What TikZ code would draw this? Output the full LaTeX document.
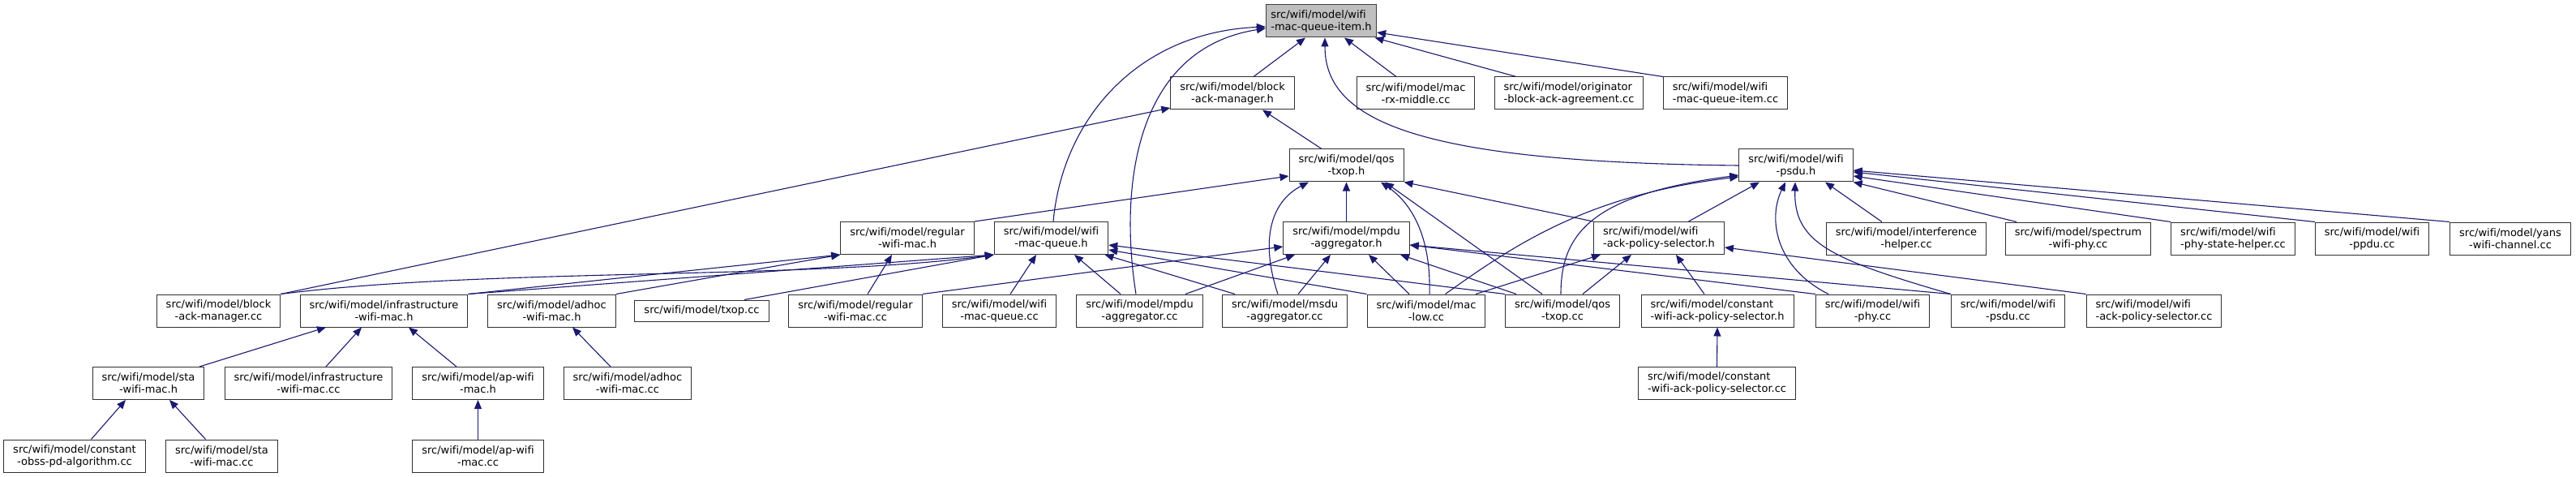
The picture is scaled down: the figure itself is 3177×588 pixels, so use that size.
\documentclass[tikz,border=0pt]{standalone}
\usepackage{fontspec}
\setmainfont{DejaVu Sans}[Ligatures=NoCommon]
\usetikzlibrary{arrows.meta,calc}
\definecolor{edgec}{HTML}{191970}
\definecolor{rootfill}{HTML}{BFBFBF}
\definecolor{rootline}{HTML}{404040}
\definecolor{boxline}{HTML}{303030}
\begin{document}
\begin{tikzpicture}[x=1pt,y=-1pt,
  box/.style={draw=boxline, line width=1pt, fill=white, font=\fontsize{13}{15}\selectfont,
    inner xsep=11.5pt, inner ysep=2pt, minimum height=40pt, align=center},
  lbox/.style={box, align=left},
  edge/.style={draw=edgec, line width=1.1pt, -{Triangle[length=11pt,width=9pt]}}]
\useasboundingbox[fill=white] (0,0) rectangle (3177,588);
% row 1
\node[lbox, fill=rootfill, draw=rootline, inner xsep=6pt] (R) at (1629.5,26) {src/wifi/model/wifi\\-mac-queue-item.h};
% row 2
\node[box] (BAMh) at (1520,115) {src/wifi/model/block\\-ack-manager.h};
\node[box] (MRM) at (1746,115) {src/wifi/model/mac\\-rx-middle.cc};
\node[lbox] (ORIG) at (1935,115) {src/wifi/model/originator\\-block-ack-agreement.cc};
\node[lbox] (WMQIcc) at (2128,115) {src/wifi/model/wifi\\-mac-queue-item.cc};
% row 3
\node[box] (QTh) at (1660.5,204) {src/wifi/model/qos\\-txop.h};
\node[box] (PSDUh) at (2215,204) {src/wifi/model/wifi\\-psdu.h};
% row 4
\node[box] (RWMh) at (1119,293.5) {src/wifi/model/regular\\-wifi-mac.h};
\node[box] (WMQh) at (1296.5,293.5) {src/wifi/model/wifi\\-mac-queue.h};
\node[box] (MAh) at (1660.5,293.5) {src/wifi/model/mpdu\\-aggregator.h};
\node[lbox] (WAPSh) at (2046,293.5) {src/wifi/model/wifi\\-ack-policy-selector.h};
\node[box] (IH) at (2351,294) {src/wifi/model/interference\\-helper.cc};
\node[box] (SP) at (2563,294) {src/wifi/model/spectrum\\-wifi-phy.cc};
\node[lbox] (PSH) at (2754,294) {src/wifi/model/wifi\\-phy-state-helper.cc};
\node[box] (PPDU) at (2925.5,294) {src/wifi/model/wifi\\-ppdu.cc};
\node[box] (YANS) at (3096,294) {src/wifi/model/yans\\-wifi-channel.cc};
% row 5
\node[box] (BAMcc) at (269.5,383) {src/wifi/model/block\\-ack-manager.cc};
\node[box] (IWh) at (473.5,383) {src/wifi/model/infrastructure\\-wifi-mac.h};
\node[box] (AHh) at (680.5,383) {src/wifi/model/adhoc\\-wifi-mac.h};
\node[box, minimum height=26pt] (TXcc) at (865.5,383) {src/wifi/model/txop.cc};
\node[box] (RWMcc) at (1055,383) {src/wifi/model/regular\\-wifi-mac.cc};
\node[box] (WMQcc) at (1232.5,383) {src/wifi/model/wifi\\-mac-queue.cc};
\node[box] (MPDUcc) at (1405.5,383) {src/wifi/model/mpdu\\-aggregator.cc};
\node[box] (MScc) at (1584.5,383) {src/wifi/model/msdu\\-aggregator.cc};
\node[box] (MLcc) at (1759,383) {src/wifi/model/mac\\-low.cc};
\node[box] (QTcc) at (1927,383) {src/wifi/model/qos\\-txop.cc};
\node[lbox] (CWh) at (2118,383) {src/wifi/model/constant\\-wifi-ack-policy-selector.h};
\node[box] (WPcc) at (2309.5,383) {src/wifi/model/wifi\\-phy.cc};
\node[box] (PScc) at (2476.5,383) {src/wifi/model/wifi\\-psdu.cc};
\node[lbox] (WAPScc) at (2656.5,383) {src/wifi/model/wifi\\-ack-policy-selector.cc};
% row 6
\node[box] (SWh) at (183,472.5) {src/wifi/model/sta\\-wifi-mac.h};
\node[box] (IWcc) at (380.5,472.5) {src/wifi/model/infrastructure\\-wifi-mac.cc};
\node[box] (AWh) at (589.5,472.5) {src/wifi/model/ap-wifi\\-mac.h};
\node[box] (AHcc) at (774,472.5) {src/wifi/model/adhoc\\-wifi-mac.cc};
\node[lbox] (CWcc) at (2117.5,472.5) {src/wifi/model/constant\\-wifi-ack-policy-selector.cc};
% row 7
\node[box] (CO) at (92,562) {src/wifi/model/constant\\-obss-pd-algorithm.cc};
\node[box] (SWcc) at (273.5,562) {src/wifi/model/sta\\-wifi-mac.cc};
\node[box] (AWcc) at (589.5,562) {src/wifi/model/ap-wifi\\-mac.cc};

% edges to root
\draw[edge] ([xshift=26pt]BAMh.north) -- ([xshift=-19.5pt]R.south);
\draw[edge] ([xshift=-24pt]MRM.north) -- ([xshift=28.5pt]R.south);
\draw[edge] ([xshift=-65pt]ORIG.north) -- ([xshift=66pt]R.south);
\draw[edge] (WMQIcc.north west) -- ([yshift=-14pt]R.east);
\draw[edge] (PSDUh.west) .. controls (1750,200) and (1634,150) .. ([xshift=4.5pt]R.south);
\draw[edge] ([xshift=2.5pt]WMQh.north) .. controls (1310,150) and (1400,40) .. ([yshift=-7pt]R.west);
\draw[edge] ([xshift=-4.5pt]MPDUcc.north) .. controls (1380,230) and (1400,60) .. ([yshift=-9pt]R.west);
% block-ack-manager.h
\draw[edge] ([xshift=-30.5pt]QTh.north) -- ([xshift=37pt]BAMh.south);
\draw[edge] (BAMcc.north east) -- ([yshift=-18pt]BAMh.west);
% qos-txop.h
\draw[edge] (RWMh.north east) -- ([yshift=-13pt]QTh.west);
\draw[edge] (MAh.north) -- (QTh.south);
\draw[edge] ([xshift=-8.5pt]MScc.north) .. controls (1555,300) and (1565,250) .. ([xshift=-46.5pt]QTh.south);
\draw[edge] ([xshift=4pt]MLcc.north) .. controls (1765,290) and (1740,250) .. ([xshift=42.5pt]QTh.south);
\draw[edge] ([xshift=-25pt]QTcc.north) -- ([xshift=47.5pt]QTh.south);
\draw[edge] (WAPSh.north west) -- (QTh.south east);
% wifi-psdu.h
\draw[edge] ([xshift=36.5pt]WAPSh.north) -- ([xshift=-45pt]PSDUh.south);
\draw[edge] ([xshift=23.5pt]MLcc.north) .. controls (1870,300) and (1960,240) .. ([yshift=-14pt]PSDUh.west);
\draw[edge] ([xshift=-2pt]QTcc.north) .. controls (1925,290) and (1960,240) .. ([yshift=-12pt]PSDUh.west);
\draw[edge] ([xshift=-30pt]IH.north) -- ([xshift=36pt]PSDUh.south);
\draw[edge] ([xshift=-76pt]SP.north) -- (PSDUh.south east);
\draw[edge] (PSH.north west) -- ([yshift=-13pt]PSDUh.east);
\draw[edge] (PPDU.north west) -- ([yshift=-8pt]PSDUh.east);
\draw[edge] (YANS.north west) -- ([yshift=-6pt]PSDUh.east);
\draw[edge] ([xshift=-54.5pt]WPcc.north) .. controls (2190,330) and (2180,270) .. ([xshift=-13pt]PSDUh.south);
\draw[edge] (PScc.north west) .. controls (2260,320) and (2212,300) .. ([xshift=-1pt]PSDUh.south);
% wifi-ack-policy-selector.h
\draw[edge] ([xshift=61pt]MLcc.north) -- ([xshift=-72pt]WAPSh.south);
\draw[edge] ([xshift=25pt]QTcc.north) -- ([xshift=-34pt]WAPSh.south);
\draw[edge] ([xshift=-16pt]CWh.north) -- ([xshift=21pt]WAPSh.south);
\draw[edge] (WAPScc.north west) -- ([yshift=-11.5pt]WAPSh.east);
\draw[edge] (CWcc.north) -- (CWh.south);
% mpdu-aggregator.h
\draw[edge] (RWMcc.north east) -- ([yshift=-10.5pt]MAh.west);
\draw[edge] ([xshift=56.5pt]MPDUcc.north) -- ([xshift=-63.5pt]MAh.south);
\draw[edge] ([xshift=16.5pt]MScc.north) -- ([xshift=-19.5pt]MAh.south);
\draw[edge] ([xshift=-21pt]MLcc.north) -- ([xshift=27.5pt]MAh.south);
\draw[edge] ([xshift=-57pt]QTcc.north) -- ([xshift=66.5pt]MAh.south);
\draw[edge] (WPcc.north west) -- ([yshift=-8.5pt]MAh.east);
\draw[edge] (PScc.north west) -- ([yshift=-8.5pt]MAh.east);
% wifi-mac-queue.h
\draw[edge] ([xshift=13.5pt]WMQcc.north) -- ([xshift=-18.5pt]WMQh.south);
\draw[edge] ([xshift=-23.5pt]MPDUcc.north) -- ([xshift=28.5pt]WMQh.south);
\draw[edge] ([xshift=-61.5pt]MScc.north) -- ([xshift=66pt]WMQh.south);
\draw[edge] (QTcc.north west) -- ([yshift=-8.5pt]WMQh.east);
\draw[edge] (MLcc.north west) -- ([yshift=-14.5pt]WMQh.east);
\draw[edge] (BAMcc.north east) .. controls (600,330) and (1000,345) .. (WMQh.south west);
\draw[edge] ([xshift=52.5pt]TXcc.north) -- (WMQh.south west);
\draw[edge] (IWh.north east) -- (WMQh.south west);
% regular-wifi-mac.h
\draw[edge] (IWh.north east) -- (RWMh.south west);
\draw[edge] (AHh.north east) -- (RWMh.south west);
\draw[edge] ([xshift=15pt]RWMcc.north) -- ([xshift=-19pt]RWMh.south);
% lower part
\draw[edge] ([xshift=63pt]SWh.north) -- ([xshift=-71.5pt]IWh.south);
\draw[edge] ([xshift=21.5pt]IWcc.north) -- ([xshift=-27.5pt]IWh.south);
\draw[edge] ([xshift=-26.5pt]AWh.north) -- ([xshift=30.5pt]IWh.south);
\draw[edge] ([xshift=20.5pt]CO.north) -- ([xshift=-28pt]SWh.south);
\draw[edge] ([xshift=-20pt]SWcc.north) -- ([xshift=26pt]SWh.south);
\draw[edge] (AWcc.north) -- (AWh.south);
\draw[edge] ([xshift=-21pt]AHcc.north) -- ([xshift=25.5pt]AHh.south);
\end{tikzpicture}
\end{document}
